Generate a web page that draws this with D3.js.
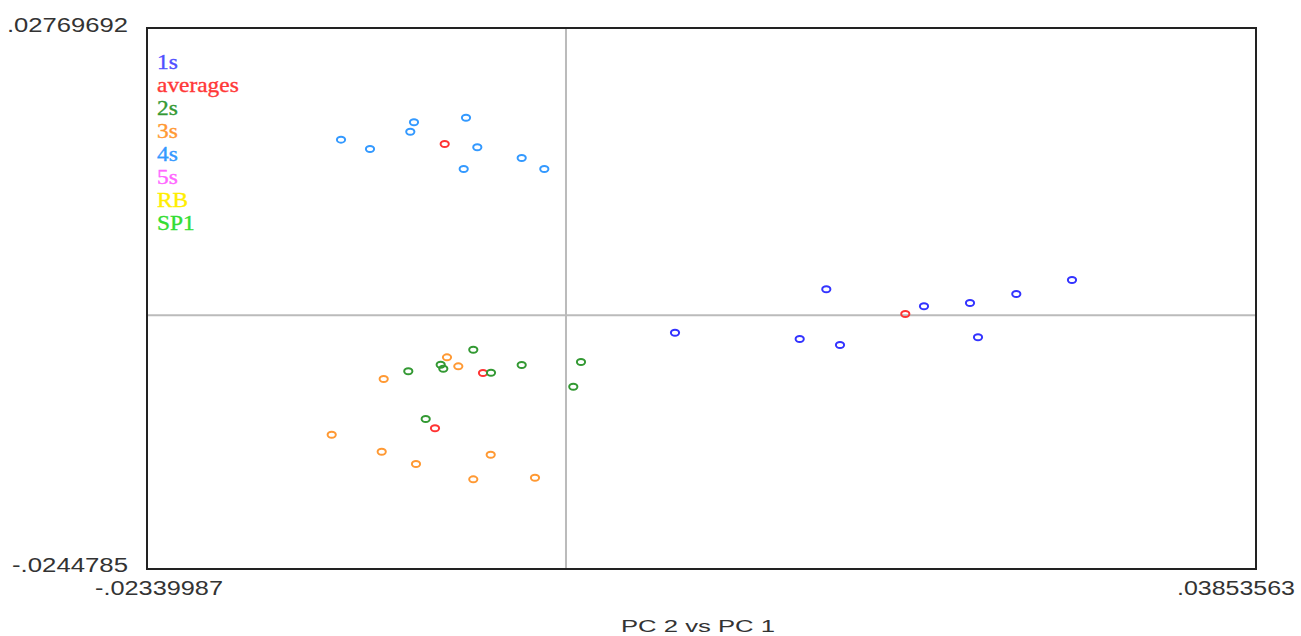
<!DOCTYPE html>
<html>
<head>
<meta charset="utf-8">
<script src="https://cdn.jsdelivr.net/npm/d3@7"></script>
<style>
  html, body { margin: 0; padding: 0; background: #fff; }
  svg { display: block; }
</style>
</head>
<body>
<svg id="chart" width="1301" height="636"></svg>
<script>
// ---- data ----
const xTickLabels = ["-.02339987", ".03853563"];
const yTickLabels = ["-.0244785", ".02769692"];
const axisTitle = "PC 2 vs PC 1";

const seriesNames = ["1s", "averages", "2s", "3s", "4s", "5s", "RB", "SP1"];
const seriesColors = ["#3333ff", "#ff3333", "#339933", "#ff9933", "#3399ff", "#ff66ff", "#ffee00", "#33cc33"];
const legendColors = ["#5050ff", "#ff3838", "#339933", "#ff9933", "#3399ff", "#ff66ff", "#ffee00", "#33dd33"];

const s1x = [0.006088, 0.014538, 0.013052, 0.015303, 0.019994, 0.022563, 0.025149, 0.028259, 0.023010];
const s1y = [-0.001690, 0.002497, -0.002297, -0.002875, 0.000857, 0.001176, 0.002043, 0.003393, -0.002133];

const avgX = [-0.006774, -0.004635, -0.007316, 0.018950];
const avgY = [0.016510, -0.005576, -0.010909, 0.000114];

const s2x = [-0.005177, -0.006998, -0.006852, -0.008807, -0.004188, -0.002474, 0.000838, 0.000408, -0.007835];
const s2y = [-0.003329, -0.004776, -0.005161, -0.005412, -0.005547, -0.004804, -0.004515, -0.006897, -0.010012];

const s3x = [-0.006646, -0.006014, -0.010181, -0.013085, -0.010292, -0.008377, -0.004205, -0.005177, -0.001731];
const s3y = [-0.004062, -0.004930, -0.006155, -0.011526, -0.013166, -0.014352, -0.013455, -0.015828, -0.015673];

const s4x = [-0.012565, -0.010946, -0.008489, -0.008695, -0.005584, -0.004953, -0.005713, -0.002474, -0.001211];
const s4y = [0.016925, 0.016028, 0.018603, 0.017696, 0.019046, 0.016192, 0.014099, 0.015160, 0.014099];

const s5x = [], s5y = [];
const rbX = [], rbY = [];
const sp1X = [], sp1Y = [];

const seriesX = [s1x, avgX, s2x, s3x, s4x, s5x, rbX, sp1X];
const seriesY = [s1y, avgY, s2y, s3y, s4y, s5y, rbY, sp1Y];

// ---- layout ----
const svg = d3.select("#chart");
const plotL = 147, plotR = 1256, plotT = 28, plotB = 569;

const x = d3.scaleLinear().domain(xTickLabels.map(Number)).range([plotL, plotR]);
const y = d3.scaleLinear().domain(yTickLabels.map(Number)).range([plotB, plotT]);

// crosshair at zero
svg.append("line")
  .attr("x1", x(0)).attr("x2", x(0)).attr("y1", plotT).attr("y2", plotB)
  .attr("stroke", "#bbbbbb").attr("stroke-width", 2);
svg.append("line")
  .attr("x1", plotL).attr("x2", plotR).attr("y1", y(0)).attr("y2", y(0))
  .attr("stroke", "#bbbbbb").attr("stroke-width", 2);

// frame
svg.append("rect")
  .attr("x", plotL).attr("y", plotT)
  .attr("width", plotR - plotL).attr("height", plotB - plotT)
  .attr("fill", "none").attr("stroke", "#222").attr("stroke-width", 2);

// points
seriesNames.forEach((name, i) => {
  const pts = seriesX[i].map((vx, j) => ({ x: vx, y: seriesY[i][j] }));
  svg.append("g").selectAll("ellipse").data(pts).join("ellipse")
    .attr("cx", d => x(d.x)).attr("cy", d => y(d.y))
    .attr("rx", 4.1).attr("ry", 3.0)
    .attr("fill", "none")
    .attr("stroke", seriesColors[i])
    .attr("stroke-width", 2);
});

// legend
const lg = svg.append("g");
seriesNames.forEach((name, i) => {
  lg.append("text")
    .attr("transform", `translate(157,${69 + i * 23}) scale(1.17,1)`)
    .attr("font-family", "'Liberation Serif', 'Times New Roman', serif")
    .attr("font-size", 20)
    .attr("stroke", legendColors[i])
    .attr("stroke-width", 0.35)
    .attr("fill", legendColors[i])
    .text(name);
});

// axis extreme labels
const lab = (txt, x0, yb, len, size) => svg.append("text")
  .attr("x", x0).attr("y", yb)
  .attr("font-family", "'Liberation Sans', Arial, sans-serif")
  .attr("font-size", size)
  .attr("fill", "#333")
  .attr("textLength", len).attr("lengthAdjust", "spacingAndGlyphs")
  .text(txt);

lab(yTickLabels[1], 7, 32, 121, 20);
lab(yTickLabels[0], 12, 572, 116, 20);
lab(xTickLabels[0], 95, 595, 128, 20);
lab(xTickLabels[1], 1177, 595, 118, 20);
lab(axisTitle, 621, 632, 154, 17);
</script>
</body>
</html>
